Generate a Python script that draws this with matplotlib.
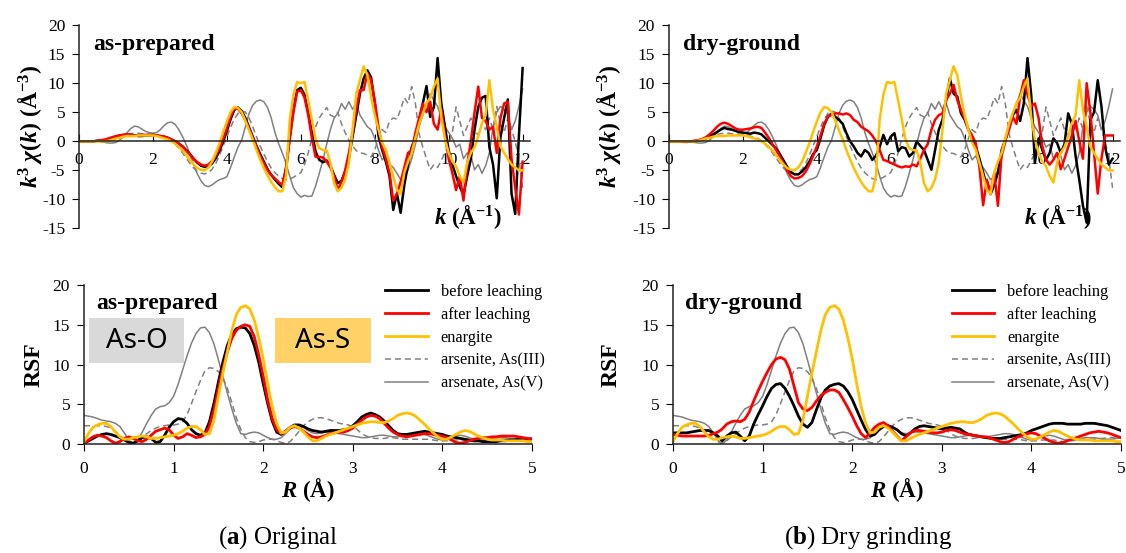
import numpy as np
import matplotlib.pyplot as plt
from matplotlib.patches import Rectangle

plt.rcParams['font.family'] = ['Liberation Serif', 'DejaVu Serif']
plt.rcParams['axes.unicode_minus'] = False
plt.rcParams['mathtext.fontset'] = 'custom'
plt.rcParams['mathtext.rm'] = 'Liberation Serif'
plt.rcParams['mathtext.it'] = 'Liberation Serif:italic'
plt.rcParams['mathtext.bf'] = 'Liberation Serif:bold'
plt.rcParams['mathtext.bfit'] = 'Liberation Serif:italic:bold'

# k-space EXAFS, k = 0 .. 12 in steps of 0.1
k = np.round(np.arange(0, 12.05, 0.1), 1)

chi_prep_before = [
    0, 0, 0, 0, 0, 0.1, 0.1, 0.2, 0.4, 0.6,
    0.8, 1.0, 1.1, 1.1, 1.1, 1.0, 0.9, 0.9, 1.0, 1.0,
    1.1, 1.0, 0.9, 0.8, 0.6, 0.3, 0.0, -0.4, -0.9, -1.5,
    -2.2, -3.0, -3.7, -4.2, -4.4, -4.3, -3.8, -2.9, -1.6, 0.0,
    1.8, 3.8, 5.4, 5.8, 5.2, 4.0, 2.4, 0.8, -0.8, -2.2,
    -3.5, -4.8, -5.8, -6.6, -7.3, -7.9, -4.5, 0.5, 5.5, 8.8,
    9.2, 8.0, 5.0, 1.5, -1.8, -3.2, -3.6, -3.3, -4.2, -5.8,
    -7.2, -6.8, -5.2, -2.8, 0.8, 4.5, 8.2, 10.8, 12.2, 11.0,
    6.5, 1.0, -1.5, -3.5, -6.0, -11.8, -9.0, -12.3, -7.5, -4.0,
    -1.0, 0.5, 3.5, 6.5, 9.5, 4.2, 5.9, 14.3, 6.5, 2.5,
    -1.6, -4.0, -6.0, -7.8, -9.2, -6.0, -3.0, 2.0, 5.9, 7.5,
    7.8, -1.0, -4.0, -9.8, 0.7, 4.0, 7.2, -9.0, -12.5, 1.0,
    12.6]
chi_prep_after = [
    0, 0, 0, 0, 0, 0.1, 0.2, 0.3, 0.5, 0.7,
    0.9, 1.0, 1.1, 1.2, 1.1, 1.0, 1.0, 1.1, 1.1, 1.1,
    1.1, 1.0, 0.9, 0.8, 0.6, 0.3, 0.0, -0.4, -0.9, -1.6,
    -2.3, -3.0, -3.6, -4.0, -4.2, -4.0, -3.4, -2.5, -1.2, 0.4,
    2.3, 4.2, 5.6, 5.6, 4.8, 3.6, 2.2, 0.6, -1.0, -2.5,
    -3.8, -5.0, -5.8, -6.4, -7.0, -7.5, -4.8, 0.5, 5.0, 8.5,
    8.8, 7.5, 4.5, 0.5, -2.7, -2.7, -2.8, -3.5, -4.5, -6.0,
    -8.4, -7.0, -5.0, -2.0, 1.5, 5.5, 8.8, 8.8, 11.7, 10.5,
    7.0, 2.5, -1.0, -3.0, -5.5, -10.2, -9.0, -7.0, -4.5, -2.0,
    -1.5, 1.5, 4.0, 6.5, 5.0, 6.8, 3.0, 2.0, 5.5, 1.0,
    -3.0, -5.5, -8.4, -6.0, -10.2, -4.0, 0.0, 5.0, 9.4, 4.0,
    3.5, 2.0, 2.5, -2.0, 4.0, 6.5, 6.8, -3.0, -8.0, -12.6,
    -3.5]
chi_dry_before = [
    0, 0, 0, 0, -0.1, -0.1, 0, 0, 0.1, 0.3,
    0.5, 0.8, 1.2, 1.6, 2.0, 2.3, 2.1, 2.0, 1.8, 1.6,
    1.5, 1.4, 1.3, 1.5, 1.4, 1.2, 0.6, 0.0, -0.6, -1.3,
    -2.2, -3.3, -4.4, -5.3, -5.7, -5.7, -5.2, -4.5, -3.5, -2.2,
    -1.5, 0.5, 2.8, 4.2, 4.8, 4.2, 3.7, 3.0, 1.4, 0.0,
    -0.9, -2.0, -2.6, -1.5, -2.0, -3.2, -2.5, -1.0, 1.1, -0.5,
    0.8, 1.4, -1.7, -1.0, -1.2, -2.6, -2.0, 0.0, -0.8, -1.5,
    -3.2, -4.9, -1.5, 2.0, 3.7, 7.1, 10.8, 8.2, 7.7, 4.8,
    3.7, 2.0, 0.8, -0.9, -3.0, -5.4, -7.7, -9.1, -7.5, -5.4,
    -1.5, 0.3, 2.5, 4.5, 5.4, 3.5, 6.5, 14.3, 8.0, -3.7,
    0.5, -1.5, -3.2, -2.0, 0.5, -0.3, -2.0, -0.5, 4.8, 3.0,
    -2.5, -6.6, -11.1, -14.0, 3.7, 5.0, 10.5, 6.0, -1.0, -4.0,
    -3.0]
chi_dry_after = [
    0, 0, 0, 0, 0, 0, 0, 0.1, 0.2, 0.4,
    0.7, 1.2, 1.8, 2.5, 3.0, 3.2, 3.0, 2.6, 2.2, 2.0,
    2.0, 2.1, 2.2, 2.4, 2.5, 2.3, 1.5, 0.6, -0.5, -1.5,
    -2.6, -3.8, -5.0, -6.0, -6.4, -6.3, -6.0, -5.2, -4.0, -2.5,
    -0.9, 1.0, 3.0, 4.2, 4.6, 4.8, 4.8, 4.6, 4.8, 4.5,
    3.7, 3.3, 2.5, 2.1, 1.7, 1.0, 0.0, -1.5, -3.2, -3.4,
    -3.7, -4.0, -4.3, -4.5, -4.3, -4.4, -4.0, -4.3, -3.0, -1.5,
    -0.5, 2.0, 3.7, 4.5, 4.8, 7.1, 8.2, 9.7, 7.1, 5.4,
    4.0, 2.0, 1.0, -0.3, -4.5, -11.0, -6.6, -8.8, -5.5, -11.1,
    -2.0, 0.2, 2.0, 4.2, 3.0, 7.7, 10.5, 8.0, 6.0, 6.5,
    4.0, -0.8, -3.2, -4.0, -3.2, -2.0, -4.8, -3.0, -1.0, 1.0,
    3.5, 0.0, -3.0, 10.0, 5.0, -2.0, -9.0, -3.0, 1.0, 1.0,
    1.0]
chi_enargite = [
    0, 0, 0, 0, 0, 0, 0, 0, 0.1, 0.3,
    0.5, 0.6, 0.8, 0.9, 0.9, 0.9, 1.0, 1.0, 1.0, 1.0,
    1.0, 0.9, 0.7, 0.5, 0.3, 0.0, -0.4, -1.0, -1.6, -2.4,
    -3.2, -4.0, -4.6, -4.9, -5.0, -4.5, -3.5, -2.0, -0.3, 1.6,
    3.4, 5.0, 5.9, 5.7, 5.0, 3.5, 1.9, 0.3, -1.5, -3.1,
    -4.6, -5.9, -7.0, -7.9, -8.6, -8.6, -6.0, 3.7, 8.0, 10.2,
    10.0, 10.2, 7.0, 3.7, 0.3, -1.2, -1.5, -1.6, -3.7, -7.2,
    -8.6, -8.0, -6.5, -3.7, 2.0, 8.2, 10.5, 12.9, 11.4, 7.7,
    4.5, 2.0, -0.2, -1.5, -3.7, -6.0, -8.3, -9.1, -5.4, -3.5,
    -2.0, 0.5, 3.0, 4.8, 6.5, 7.5, 9.4, 10.8, 4.2, 0.3,
    -2.0, -3.5, -4.3, -6.0, -7.1, -3.7, -2.0, -1.0, 0.8, 3.1,
    4.5, 10.5, 5.4, 2.5, -0.9, -2.0, -3.0, -4.0, -4.5, -5.0,
    -5.0]
chi_arsenite = [
    0, 0, 0, 0, 0, 0, 0, 0, 0.1, 0.2,
    0.4, 0.7, 1.0, 1.2, 1.3, 1.4, 1.4, 1.3, 1.3, 1.2,
    1.1, 1.0, 0.9, 0.7, 0.5, 0.1, -0.5, -1.2, -2.0, -2.9,
    -3.8, -4.6, -5.2, -5.5, -5.6, -5.4, -4.8, -3.8, -2.4, -0.8,
    0.8, 2.4, 3.8, 4.8, 5.2, 5.0, 4.0, 2.5, 0.8, -0.8,
    -2.2, -3.5, -4.6, -5.4, -6.0, -6.4, -6.6, -6.5, -6.2, -5.8,
    -5.4, -4.0, -2.0, 0.5, 2.5, 4.0, 5.0, 5.8, 4.5, 4.2,
    5.0, 3.0, 1.5, 0.2, -0.8, -1.6, -2.0, -2.1, -2.4, -2.7,
    -1.5, 0.5, 2.0, 1.5, 3.5, 4.0, 3.8, 5.5, 7.5, 6.5,
    9.4, 6.5, 1.3, -1.0, -3.0, -4.9, -4.0, -4.5, -3.3, -2.0,
    -0.5, 1.5, 5.9, 3.5, 1.0, 2.5, 4.0, 2.0, 1.0, 3.0,
    2.0, 4.0, 2.0, 6.0, 3.0, 1.5, 4.0, 2.0, 0.0, -3.0,
    -8.0]
chi_arsenate = [
    0, 0, 0, 0, 0, 0, -0.1, -0.2, -0.3, -0.3,
    -0.2, 0.2, 0.8, 1.5, 2.2, 2.6, 2.5, 2.1, 1.7, 1.5,
    1.4, 1.5, 2.0, 2.7, 3.2, 3.3, 2.9, 2.0, 0.8, -0.6,
    -2.2, -4.0, -5.6, -6.8, -7.6, -7.8, -7.5, -7.0, -6.6, -6.4,
    -6.1, -4.5, -2.7, -1.0, 0.2, 2.5, 4.8, 6.2, 6.9, 7.1,
    6.8, 5.8, 4.0, 1.5, -0.4, -2.0, -3.8, -6.0, -8.0, -9.0,
    -9.6, -9.3, -9.5, -9.4, -7.7, -5.5, -3.2, -0.5, 2.0, 4.0,
    4.8, 6.5, 5.5, 6.8, 5.5, 6.5, 4.5, 3.5, 2.5, 2.0,
    0.5, -1.5, -3.2, -2.5, -4.0, -4.5, -5.5, -6.6, -6.0, -5.0,
    -3.0, -0.5, 2.5, 4.5, 6.5, 8.2, 7.0, 6.0, 4.0, 2.5,
    1.5, 0.5, -1.0, -0.5, -3.0, -2.0, -2.5, -4.9, -4.0, -5.5,
    -4.2, -2.0, 2.5, 5.0, 6.0, 5.5, 4.5, 2.0, 3.5, 6.0,
    9.0]

# Fourier transforms, R = 0 .. 5 in steps of 0.05
r = np.round(np.arange(0, 5.001, 0.05), 2)

rsf_prep_before = [
    0.1, 0.4, 0.7, 1.0, 1.2, 1.3, 1.2, 1.0, 0.8, 0.5,
    0.2, 0.1, 0.4, 0.8, 0.9, 0.7, 0.2, 0.3, 1.1, 2.1,
    2.8, 3.2, 3.1, 2.6, 1.8, 1.3, 1.1, 1.4, 2.8, 5.1,
    7.8, 10.3, 12.4, 13.8, 14.5, 14.7, 14.6, 13.9, 12.4, 10.3,
    7.6, 5.1, 2.9, 1.5, 1.2, 1.6, 2.1, 2.4, 2.4, 2.2,
    1.9, 1.7, 1.6, 1.5, 1.6, 1.7, 1.7, 1.7, 1.8, 1.9,
    2.3, 2.8, 3.4, 3.7, 3.9, 3.7, 3.4, 2.9, 2.3, 1.7,
    1.3, 1.2, 1.2, 1.3, 1.4, 1.5, 1.6, 1.5, 1.4, 1.3,
    1.2, 1.0, 0.9, 0.8, 0.7, 0.6, 0.5, 0.4, 0.4, 0.3,
    0.3, 0.3, 0.3, 0.4, 0.4, 0.5, 0.5, 0.6, 0.6, 0.6,
    0.6]
rsf_prep_after = [
    0.1, 0.5, 0.9, 1.1, 1.0, 0.8, 0.4, 0.1, 0.3, 0.7,
    0.9, 0.7, 0.4, 0.3, 0.6, 1.1, 1.6, 1.8, 2.0, 1.8,
    1.1, 0.7, 0.9, 1.3, 1.1, 0.8, 0.9, 1.2, 2.2, 4.3,
    7.0, 9.5, 11.6, 13.3, 14.3, 14.8, 15.0, 14.8, 13.5, 11.2,
    8.5, 5.5, 3.2, 1.8, 1.3, 1.6, 2.0, 2.2, 2.0, 1.6,
    1.2, 0.9, 0.8, 0.9, 1.1, 1.3, 1.4, 1.5, 1.5, 1.7,
    2.0, 2.5, 3.0, 3.4, 3.6, 3.5, 3.2, 2.6, 2.0, 1.5,
    1.2, 1.0, 0.9, 1.0, 1.1, 1.2, 1.3, 1.3, 1.2, 1.1,
    1.0, 0.8, 0.5, 0.2, 0.1, 0.2, 0.4, 0.6, 0.7, 0.8,
    0.8, 0.9, 0.9, 1.0, 1.0, 1.0, 1.0, 0.9, 0.8, 0.7,
    0.6]
rsf_dry_before = [
    1.4, 1.4, 1.4, 1.4, 1.5, 1.6, 1.7, 1.7, 1.7, 1.4,
    1.0, 0.4, 1.0, 1.4, 1.5, 1.0, 0.4, 1.0, 2.5, 3.7,
    4.8, 6.0, 7.0, 7.5, 7.6, 7.0, 6.0, 4.8, 3.5, 2.5,
    2.1, 2.7, 4.3, 5.8, 6.8, 7.3, 7.5, 7.6, 7.3, 6.6,
    5.6, 4.3, 3.0, 1.8, 1.0, 1.2, 1.8, 2.2, 2.3, 2.1,
    1.8, 1.3, 1.0, 1.4, 1.9, 2.2, 2.3, 2.2, 2.1, 2.0,
    1.9, 2.0, 2.1, 2.0, 1.9, 1.5, 1.2, 1.1, 1.0, 0.9,
    0.8, 0.7, 0.7, 0.7, 0.8, 0.9, 1.0, 1.1, 1.2, 1.4,
    1.7, 1.9, 2.1, 2.3, 2.5, 2.6, 2.6, 2.6, 2.5, 2.5,
    2.5, 2.5, 2.6, 2.6, 2.6, 2.5, 2.4, 2.3, 2.1, 1.9,
    1.7]
rsf_dry_after = [
    1.2, 1.1, 1.0, 1.0, 1.0, 1.0, 1.0, 1.0, 1.1, 1.3,
    1.5, 1.9, 2.5, 2.8, 2.9, 2.8, 3.1, 4.0, 5.4, 6.7,
    7.9, 9.0, 10.0, 10.7, 10.9, 10.6, 9.4, 7.3, 5.2, 4.4,
    4.2, 4.6, 5.4, 6.1, 6.5, 6.8, 6.8, 6.5, 5.6, 4.6,
    3.5, 2.3, 1.3, 0.8, 1.4, 2.1, 2.5, 2.7, 2.3, 1.6,
    1.0, 0.4, 0.9, 1.4, 1.7, 1.7, 1.6, 1.5, 1.4, 1.4,
    1.5, 1.7, 1.8, 1.7, 1.5, 1.3, 1.2, 1.1, 1.0, 0.9,
    0.9, 0.7, 0.5, 0.3, 0.2, 0.3, 0.6, 0.9, 1.1, 1.3,
    1.4, 1.3, 1.0, 0.7, 0.4, 0.2, 0.1, 0.2, 0.4, 0.6,
    0.8, 1.0, 1.2, 1.4, 1.5, 1.6, 1.5, 1.4, 1.2, 1.0,
    0.8]
rsf_enargite = [
    0.3, 1.3, 2.1, 2.4, 2.6, 2.6, 2.2, 1.5, 0.9, 0.6,
    0.6, 0.8, 0.9, 1.0, 0.9, 0.7, 0.7, 0.8, 0.9, 1.0,
    1.1, 1.3, 1.6, 2.0, 2.2, 2.2, 1.8, 1.2, 1.3, 3.0,
    6.0, 8.9, 11.6, 14.3, 16.3, 17.2, 17.4, 17.0, 15.6, 13.4,
    10.7, 7.6, 4.7, 2.6, 1.4, 1.5, 2.1, 2.3, 2.0, 1.5,
    0.9, 0.4, 0.4, 0.7, 1.0, 1.2, 1.4, 1.6, 1.8, 2.0,
    2.2, 2.4, 2.6, 2.7, 2.8, 2.8, 2.7, 2.7, 2.9, 3.2,
    3.6, 3.8, 3.9, 3.8, 3.5, 3.0, 2.5, 1.9, 1.4, 0.9,
    0.6, 0.6, 0.9, 1.2, 1.5, 1.7, 1.6, 1.3, 1.0, 0.8,
    0.6, 0.5, 0.5, 0.5, 0.4, 0.4, 0.4, 0.4, 0.4, 0.3,
    0.3]
rsf_arsenite = [
    2.3, 2.3, 2.3, 2.3, 2.3, 2.2, 2.0, 1.6, 1.1, 0.6,
    0.3, 0.1, 0.4, 0.9, 1.3, 1.7, 2.0, 2.2, 2.3, 2.4,
    2.4, 2.5, 2.8, 3.7, 5.1, 6.6, 8.0, 9.2, 9.6, 9.5,
    9.1, 8.3, 7.0, 5.2, 3.3, 1.8, 0.8, 0.3, 0.2, 0.3,
    0.5, 0.6, 0.6, 0.4, 0.2, 0.1, 0.3, 0.9, 1.6, 2.3,
    2.8, 3.1, 3.3, 3.3, 3.2, 3.0, 2.8, 2.6, 2.5, 2.4,
    2.2, 1.8, 1.3, 1.0, 0.8, 0.7, 0.7, 0.7, 0.8, 0.8,
    0.7, 0.6, 0.6, 0.6, 0.6, 0.6, 0.6, 0.6, 0.5, 0.4,
    0.4, 0.4, 0.5, 0.5, 0.5, 0.5, 0.4, 0.3, 0.3, 0.4,
    0.5, 0.6, 0.6, 0.6, 0.6, 0.7, 0.7, 0.8, 0.8, 0.8,
    0.8]
rsf_arsenate = [
    3.6, 3.5, 3.4, 3.2, 3.0, 2.9, 2.8, 2.6, 2.2, 1.4,
    0.5, 0.0, 0.5, 1.5, 2.6, 3.6, 4.4, 4.7, 4.8, 5.2,
    6.0, 7.5, 9.3, 11.1, 12.7, 13.9, 14.6, 14.7, 14.0, 12.6,
    10.6, 8.5, 6.4, 4.4, 2.6, 1.3, 1.2, 1.4, 1.5, 1.4,
    1.1, 0.8, 0.6, 0.6, 0.8, 1.3, 1.9, 2.3, 2.4, 2.1,
    1.7, 1.4, 1.3, 1.4, 1.5, 1.5, 1.4, 1.3, 1.2, 1.1,
    1.0, 0.9, 0.8, 0.8, 0.9, 1.0, 1.1, 1.1, 1.0, 0.9,
    0.9, 1.0, 1.1, 1.2, 1.3, 1.3, 1.2, 1.0, 0.8, 0.6,
    0.5, 0.6, 0.8, 1.0, 1.1, 1.0, 0.8, 0.6, 0.5, 0.5,
    0.6, 0.7, 0.8, 0.8, 0.8, 0.7, 0.6, 0.6, 0.6, 0.7,
    0.8]

labels = ['before leaching', 'after leaching', 'enargite',
          'arsenite, As(III)', 'arsenate, As(V)']

BLACK = '#000000'
RED = '#ff0000'
GOLD = '#ffc000'
GRAY = '#808080'
DASH = (0, (4, 2.5))


def draw_series(ax, x, before, after, enargite, arsenite, arsenate, lw):
    # references go underneath the sample curves
    l4, = ax.plot(x, arsenite, color=GRAY, lw=1.1, ls=DASH)
    l5, = ax.plot(x, arsenate, color=GRAY, lw=1.1)
    l1, = ax.plot(x, before, color=BLACK, lw=lw)
    l2, = ax.plot(x, after, color=RED, lw=lw)
    l3, = ax.plot(x, enargite, color=GOLD, lw=lw)
    return [l1, l2, l3, l4, l5]


def style_common(ax):
    for side in ('top', 'right'):
        ax.spines[side].set_visible(False)
    for side in ('left', 'bottom'):
        ax.spines[side].set_linewidth(1.1)
        ax.spines[side].set_color('#222222')


def k_panel(ax, before, after, tag, ylab_x):
    draw_series(ax, k, before, after, chi_enargite, chi_arsenite,
                chi_arsenate, 1.8)
    ax.set_xlim(0, 12.2)
    ax.set_ylim(-15, 20)
    ax.set_xticks(np.arange(0, 13, 2))
    ax.set_yticks(np.arange(-15, 21, 5))
    style_common(ax)
    ax.spines['bottom'].set_position(('data', 0))
    ax.tick_params(axis='x', direction='in', length=5, pad=8, labelsize=12.5)
    ax.tick_params(axis='y', direction='out', length=5, pad=5, labelsize=12.5)
    ax.set_ylabel(r'$\mathbfit{k}^{\mathbf{3}}$ $\mathbfit{\chi}$($\mathbfit{k}$) (Å$^{\mathbf{-3}}$)',
                  fontsize=17, fontweight='bold')
    ax.yaxis.set_label_coords(ylab_x, 0.5)
    ax.text(0.862, 0.055, r'$\mathbfit{k}$ (Å$^{\mathbf{-1}}$)', transform=ax.transAxes,
            ha='center', va='center', fontsize=16.5, fontweight='bold')
    ax.text(0.031, 0.905, tag, transform=ax.transAxes, ha='left', va='center',
            fontsize=17, fontweight='bold')


def r_panel(ax, before, after, tag, ylab_x, leg_x):
    handles = draw_series(ax, r, before, after, rsf_enargite, rsf_arsenite,
                          rsf_arsenate, 2.0)
    ax.set_xlim(0, 5)
    ax.set_ylim(0, 20)
    ax.set_xticks(np.arange(0, 6, 1))
    ax.set_yticks(np.arange(0, 21, 5))
    style_common(ax)
    ax.tick_params(axis='both', direction='out', length=5, labelsize=12.5)
    ax.tick_params(axis='x', pad=7)
    ax.tick_params(axis='y', pad=5)
    ax.set_ylabel('RSF', fontsize=17, fontweight='bold')
    ax.yaxis.set_label_coords(ylab_x, 0.5)
    ax.set_xlabel(r'$\mathbfit{R}$ (Å)', fontsize=16.5, fontweight='bold')
    ax.xaxis.set_label_coords(0.5, -0.2)
    ax.text(0.027, 0.885, tag, transform=ax.transAxes, ha='left', va='center',
            fontsize=17, fontweight='bold')
    ax.legend(handles, labels, loc='upper left', bbox_to_anchor=(leg_x, 1.005),
              frameon=False, fontsize=11.8, handlelength=2.6, handletextpad=0.8,
              labelspacing=0.42, borderaxespad=0, borderpad=0)


fig = plt.figure(figsize=(11.26, 5.53), dpi=100)

ax_kp = fig.add_axes([0.0702, 0.5868, 0.4005, 0.368])
ax_kd = fig.add_axes([0.5941, 0.5868, 0.4005, 0.368])
ax_rp = fig.add_axes([0.0746, 0.1971, 0.3979, 0.2875])
ax_rd = fig.add_axes([0.5977, 0.1971, 0.3979, 0.2875])

k_panel(ax_kp, chi_prep_before, chi_prep_after, 'as-prepared', -0.078)
k_panel(ax_kd, chi_dry_before, chi_dry_after, 'dry-ground', -0.102)
r_panel(ax_rp, rsf_prep_before, rsf_prep_after, 'as-prepared', -0.089, 0.672)
r_panel(ax_rd, rsf_dry_before, rsf_dry_after, 'dry-ground', -0.114, 0.622)

# shell assignment boxes on the as-prepared FT
ax_rp.add_patch(Rectangle((0.06, 10.2), 1.06, 5.65, facecolor='#d9d9d9',
                          edgecolor='none', zorder=6))
ax_rp.text(0.59, 13.0, 'As-O', family='Noto Sans', fontsize=20,
           ha='center', va='center', zorder=7)
ax_rp.add_patch(Rectangle((2.13, 10.2), 1.07, 5.65, facecolor='#ffd166',
                          edgecolor='none', zorder=6))
ax_rp.text(2.665, 13.0, 'As-S', family='Noto Sans', fontsize=20,
           ha='center', va='center', zorder=7)

fig.text(278 / 1126, 1 - 538 / 553, r'($\mathbf{a}$) Original',
         ha='center', va='center', fontsize=18)
fig.text(868 / 1126, 1 - 538 / 553, r'($\mathbf{b}$) Dry grinding',
         ha='center', va='center', fontsize=18)

fig.savefig('out.png', dpi=100)
